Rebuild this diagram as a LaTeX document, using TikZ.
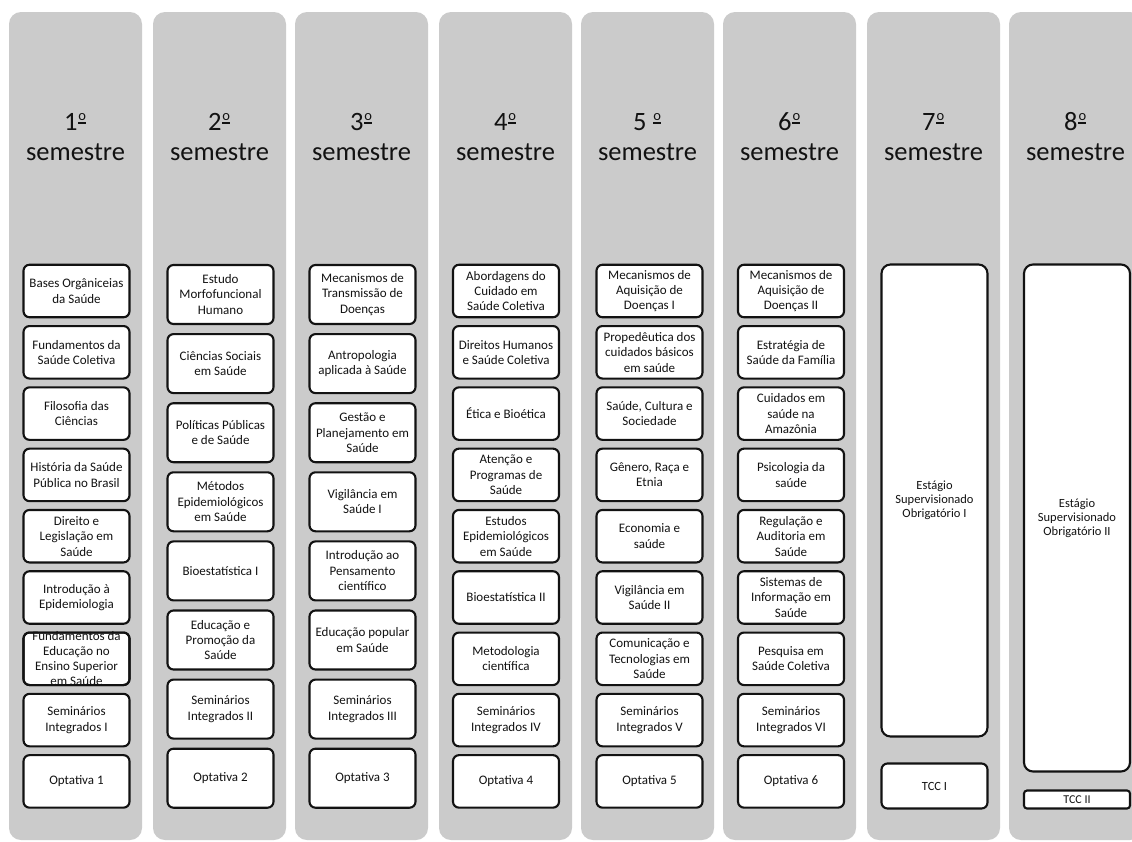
\documentclass[tikz,border=0pt]{standalone}
\usepackage{fontspec}
\setmainfont{Carlito}
\definecolor{colgrey}{RGB}{203,203,203}
\definecolor{ink}{RGB}{18,18,18}
\newcommand\ordbar{\kern0.8pt\rlap{\raisebox{6pt}{\rule{8pt}{1.6pt}}}\raisebox{9.6pt}{\makebox[8pt][c]{\fontsize{14.5}{14.5}\selectfont o}}\kern0.6pt}
\tikzset{
  semcol/.style={fill=colgrey, draw=none, rounded corners=12pt},
  semhead/.style={anchor=base, inner sep=0pt, text=ink, font=\fontsize{26.5}{30}\selectfont},
  subj/.style={draw=ink, fill=white, line width=2.1pt, rounded corners=6pt,
    minimum width=106pt, minimum height=52.5pt, inner sep=0pt, outer sep=0pt, align=center,
    text=ink, font=\fontsize{13}{15.4}\selectfont},
  subjtall/.style={subj, minimum height=59pt},
  estagio/.style={subj, rounded corners=9pt, font=\fontsize{12.5}{13.8}\selectfont},
}
\begin{document}
\begin{tikzpicture}[x=1pt,y=-1pt]
\useasboundingbox (0,0) rectangle (1132,841);
\fill[white] (0,0) rectangle (1132,841);
% semester columns and headers
\foreach \l/\n [count=\i] in {9/{1\ordbar},153/{2\ordbar},295/{3\ordbar},439/{4\ordbar},581/{5 \ordbar},723/{6\ordbar},867/{7\ordbar},1009/{8\ordbar}} {
  \path[semcol] (\l,12) rectangle (\l+133,840);
  \node[semhead] (num\i) at ({\l+66.5},130) {\n};
  \node[semhead] (sem\i) at ({\l+66.5},160) {semestre};
}
% 1st semester
\foreach \t [count=\i] in {{Bases Orgâniceias\\da Saúde},{Fundamentos da\\Saúde Coletiva},{Filosofia das\\Ciências},{História da Saúde\\Pública no Brasil},{Direito e\\Legislação em\\Saúde},{Introdução à\\Epidemiologia},{},{Seminários\\Integrados I},{Optativa 1}} {
  \node[subj] (a\i) at (76.5,{291+(\i-1)*61.3}) {\t};
}
% overflowing text of box a7, with its border drawn over it
\node[inner sep=0pt, align=center, text=ink, font=\fontsize{13}{15}\selectfont] (a7t) at (a7.center) {Fundamentos da\\Educação no\\Ensino Superior\\em Saúde};
\draw[draw=ink, line width=2.1pt, rounded corners=6pt] (a7.north west) rectangle (a7.south east);
% 2nd semester
\foreach \t [count=\i] in {{Estudo\\Morfofuncional\\Humano},{Ciências Sociais\\em Saúde},{Políticas Públicas\\e de Saúde},{Métodos\\Epidemiológicos\\em Saúde},{Bioestatística I},{Educação e\\Promoção da\\Saúde},{Seminários\\Integrados II},{Optativa 2}} {
  \node[subjtall] (b\i) at (220.5,{294.5+(\i-1)*69.1}) {\t};
}
% 3rd semester
\foreach \t [count=\i] in {{Mecanismos de\\Transmissão de\\Doenças},{Antropologia\\aplicada à Saúde},{Gestão e\\Planejamento em\\Saúde},{Vigilância em\\Saúde I},{Introdução ao\\Pensamento\\científico},{Educação popular\\em Saúde},{Seminários\\Integrados III},{Optativa 3}} {
  \node[subjtall] (c\i) at (362.5,{294.5+(\i-1)*69.1}) {\t};
}
% 4th semester
\foreach \t [count=\i] in {{Abordagens do\\Cuidado em\\Saúde Coletiva},{Direitos Humanos\\e Saúde Coletiva},{Ética e Bioética},{Atenção e\\Programas de\\Saúde},{Estudos\\Epidemiológicos\\em Saúde},{Bioestatística II},{Metodologia\\científica},{Seminários\\Integrados IV},{Optativa 4}} {
  \node[subj] (d\i) at (506,{291+(\i-1)*61.3}) {\t};
}
% 5th semester
\foreach \t [count=\i] in {{Mecanismos de\\Aquisição de\\Doenças I},{Propedêutica dos\\cuidados básicos\\em saúde},{Saúde, Cultura e\\Sociedade},{Gênero, Raça e\\Etnia},{Economia e\\saúde},{Vigilância em\\Saúde II},{Comunicação e\\Tecnologias em\\Saúde},{Seminários\\Integrados V},{Optativa 5}} {
  \node[subj] (e\i) at (649.5,{291+(\i-1)*61.3}) {\t};
}
% 6th semester
\foreach \t [count=\i] in {{Mecanismos de\\Aquisição de\\Doenças II},{Estratégia de\\Saúde da Família},{Cuidados em\\saúde na\\Amazônia},{Psicologia da\\saúde},{Regulação e\\Auditoria em\\Saúde},{Sistemas de\\Informação em\\Saúde},{Pesquisa em\\Saúde Coletiva},{Seminários\\Integrados VI},{Optativa 6}} {
  \node[subj] (f\i) at (791,{291+(\i-1)*61.3}) {\t};
}
% 7th semester
\node[estagio, minimum height=472pt] (g1) at (934.5,500.5) {Estágio\\Supervisionado\\Obrigatório I};
\node[subj, minimum height=45pt, font=\fontsize{12.5}{14}\selectfont] (g2) at (934.5,786) {TCC I};
% 8th semester
\node[estagio, minimum height=507pt] (h1) at (1077,518) {Estágio\\Supervisionado\\Obrigatório II};
\node[subj, minimum height=18pt, rounded corners=3pt, font=\fontsize{12}{13}\selectfont] (h2) at (1077,799.5) {TCC II};
\end{tikzpicture}
\end{document}
